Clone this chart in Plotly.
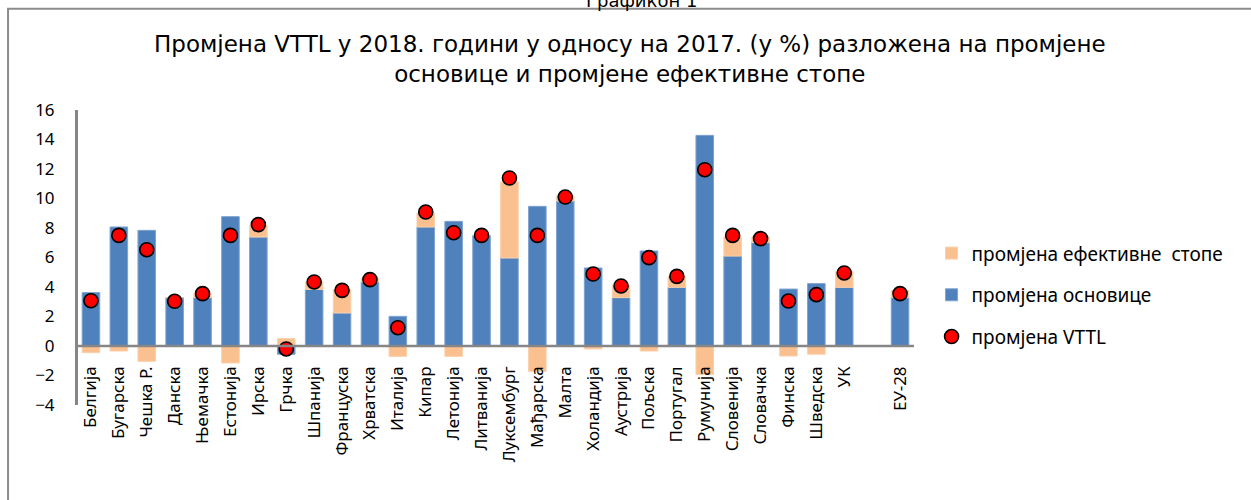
import plotly.graph_objects as go

# Countries (EU member states) and the EU-28 aggregate
countries = ["Белгија", "Бугарска", "Чешка Р.", "Данска", "Њемачка", "Естонија",
             "Ирска", "Грчка", "Шпанија", "Француска", "Хрватска", "Италија",
             "Кипар", "Летонија", "Литванија", "Луксембург", "Мађарска", "Малта",
             "Холандија", "Аустрија", "Пољска", "Португал", "Румунија", "Словенија",
             "Словачка", "Финска", "Шведска", "УК", "ЕУ-28"]

# Change of the base (%)
base_change = [3.62, 8.07, 7.84, 3.28, 3.28, 8.77, 7.39, -0.56, 3.84, 2.24,
               4.34, 2.01, 8.07, 8.45, 7.50, 5.97, 9.47, 9.83, 5.29, 3.28,
               6.44, 3.98, 14.28, 6.10, 7.01, 3.86, 4.23, 3.98, 3.28]

# Change of the effective rate (%)
rate_change = [-0.45, -0.34, -1.04, 0.0, 0.27, -1.15, 0.79, 0.50, 0.50, 1.60,
               0.23, -0.70, 0.95, -0.70, 0.0, 5.15, -1.72, 0.36, -0.20, 0.84,
               -0.34, 0.72, -1.94, 1.29, 0.38, -0.68, -0.56, 1.06, 0.47]

# Total VTTL change (%)
vttl_change = [3.07, 7.50, 6.53, 3.03, 3.55, 7.50, 8.23, -0.20, 4.34, 3.77,
               4.50, 1.24, 9.08, 7.68, 7.50, 11.39, 7.50, 10.10, 4.88, 4.07,
               5.99, 4.72, 11.95, 7.50, 7.28, 3.05, 3.48, 4.95, 3.55]

# Category order with an empty slot separating the EU-28 aggregate
category_order = countries[:-1] + [" "] + countries[-1:]

Y_MIN, Y_MAX = -4, 16
AXIS_GREY = "#868686"
TICK_FONT = dict(family="Noto Sans", size=17, color="#000000")

fig = go.Figure()

fig.add_trace(go.Bar(
    x=countries, y=base_change, name="промјена основице",
    marker=dict(color="#4F81BD", line=dict(color="#7FA3D1", width=1)),
    legendrank=2, legendgroup="b",
))
fig.add_trace(go.Bar(
    x=countries, y=rate_change, name="промјена ефективне  стопе",
    marker=dict(color="#FAC090", line=dict(color="#FBD0AA", width=1)),
    legendrank=1, legendgroup="a",
))
fig.add_trace(go.Scatter(
    x=countries, y=vttl_change, name="промјена VTTL", mode="markers",
    marker=dict(color="#FF0000", size=14, line=dict(color="#000000", width=1.6)),
    legendrank=3, legendgroup="c",
))

fig.update_layout(
    width=1251, height=500,
    margin=dict(l=77, r=337, t=110, b=95, autoexpand=False),
    paper_bgcolor="white", plot_bgcolor="white",
    barmode="relative", bargap=0.37,
    showlegend=True,
    legend=dict(
        x=1.021, y=0.372, xanchor="left", yanchor="middle",
        traceorder="grouped", tracegroupgap=14,
        font=dict(family="Noto Sans", size=19, color="#000000"),
        itemwidth=30, bgcolor="rgba(0,0,0,0)",
    ),
    xaxis=dict(
        type="category", categoryorder="array", categoryarray=category_order,
        range=[-0.5, len(category_order) - 0.5], autorange=False,
        anchor="free", position=(0 - Y_MIN) / (Y_MAX - Y_MIN),
        showline=False, showgrid=False, zeroline=False, ticks="",
        tickangle=-90, tickfont=TICK_FONT, ticklabelstandoff=16,
        automargin=False,
    ),
    yaxis=dict(
        range=[Y_MIN, Y_MAX], tickvals=list(range(Y_MIN, Y_MAX + 1, 2)),
        anchor="free", position=0,
        showgrid=False, zeroline=False,
        showline=True, linecolor=AXIS_GREY, linewidth=2, layer="above traces",
        ticks="", tickfont=TICK_FONT, ticklabelstandoff=18,
        automargin=False,
    ),
    shapes=[
        # vertical value-axis line along the left edge of the plot area
        dict(type="line", xref="paper", yref="paper", x0=-0.0012, x1=-0.0012,
             y0=0, y1=1, line=dict(color=AXIS_GREY, width=2), layer="above"),
        # horizontal axis line at zero, drawn over the bars
        dict(type="line", xref="paper", yref="y", x0=0, x1=1, y0=0, y1=0,
             line=dict(color=AXIS_GREY, width=2.5), layer="above"),
        # chart frame
        dict(type="rect", xref="paper", yref="paper",
             x0=-0.0824, x1=1.6, y0=1.343, y1=-0.6,
             line=dict(color="#8C8C8C", width=2), layer="below"),
    ],
    annotations=[
        dict(text="Промјена VTTL у 2018. години у односу на 2017. (у %) разложена на промјене<br>"
                  "основице и промјене ефективне стопе",
             xref="paper", yref="paper", x=0.6607, y=1.173,
             xanchor="center", yanchor="middle", showarrow=False,
             font=dict(family="DejaVu Sans", size=23, color="#000000")),
        dict(text="Графикон 1", xref="paper", yref="paper", x=0.675, y=1.33,
             xanchor="center", yanchor="bottom", showarrow=False,
             font=dict(family="DejaVu Sans", size=18, color="#000000")),
    ],
)

fig.write_html("out.html")
